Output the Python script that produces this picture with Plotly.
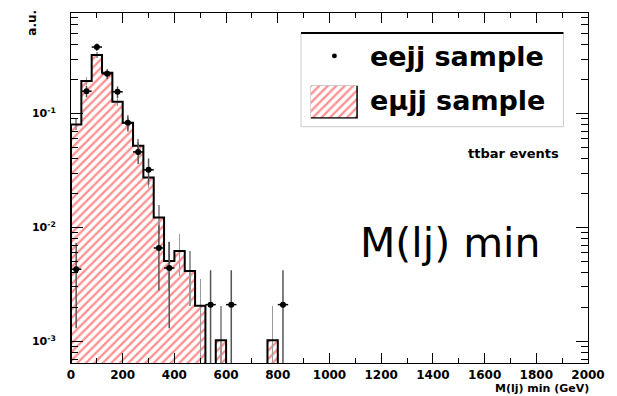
import plotly.graph_objects as go

# ---------------- data ----------------
bin_low = [0, 40, 80, 120, 160, 200, 240, 280, 320, 360, 400,
           440, 480, 520, 560, 600, 640, 680, 720, 760, 800]
bin_width = 40
emujj = [0.080, 0.193, 0.326, 0.228, 0.127, 0.083, 0.052, 0.0274, 0.0122, 0.00508, 0.00622,
         0.00415, 0.00205, 0, 0.00102, 0, 0, 0, 0, 0.00102, 0]
emujj_err = [0.009, 0.014, 0.018, 0.015, 0.0114, 0.0092, 0.0073, 0.0053, 0.0035, 0.0023, 0.0025,
             0.0021, 0.00145, 0, 0.00102, 0, 0, 0, 0, 0.00102, 0]

eejj_x = [20, 60, 100, 140, 180, 220, 260, 300, 340, 380, 540, 620, 820]
eejj_y = [0.0043, 0.157, 0.383, 0.223, 0.155, 0.083, 0.046, 0.032, 0.0066, 0.0044, 0.0021, 0.0021, 0.0021]
eejj_err = [0.003, 0.018, 0.029, 0.022, 0.018, 0.0134, 0.0099, 0.0083, 0.0038, 0.0031, 0.0021, 0.0021, 0.0021]

x_ticks = [0, 200, 400, 600, 800, 1000, 1200, 1400, 1600, 1800, 2000]
y_ticks = [0.001, 0.01, 0.1]
y_ticktext = ["10<sup>-3</sup>", "10<sup>-2</sup>", "10<sup>-1</sup>"]

# ---------------- layout geometry ----------------
W, H = 617, 396
L, R, T, B = 71, 20, 12, 33
PW, PH = W - L - R, H - T - B

def px(x):
    return (x - L) / PW

def py(y):
    return (H - B - y) / PH

FONT = "DejaVu Sans"

centers = [b + bin_width / 2 for b in bin_low]
bar_y = [v if v > 0 else None for v in emujj]

fig = go.Figure()

# hatched histogram
fig.add_trace(go.Bar(
    x=centers, y=bar_y, width=bin_width,
    marker=dict(color="white",
                pattern=dict(shape="/", fgcolor="#ff2020", bgcolor="white", size=6, solidity=0.38),
                line=dict(width=0)),
    error_y=dict(type="data", array=emujj_err, color="#9a9a9a", thickness=1.5, width=0),
    showlegend=False, hoverinfo="skip"))

# histogram outline (step)
tiny = 1e-6
sx, sy = [bin_low[0]], [tiny]
for lo, v in zip(bin_low, emujj):
    val = v if v > 0 else tiny
    sx += [lo, lo + bin_width]
    sy += [val, val]
sx.append(bin_low[-1] + bin_width)
sy.append(tiny)
fig.add_trace(go.Scatter(x=sx, y=sy, mode="lines",
                         line=dict(color="black", width=2),
                         showlegend=False, hoverinfo="skip"))

# eejj points
fig.add_trace(go.Scatter(
    x=eejj_x, y=eejj_y, mode="markers",
    marker=dict(color="black", size=6, symbol="circle"),
    error_y=dict(type="data", array=eejj_err, color="#555555", thickness=1.5, width=0),
    error_x=dict(type="constant", value=bin_width / 2, color="black", thickness=1.5, width=0),
    showlegend=False, hoverinfo="skip"))

# legend swatch (hatched box) on an overlay axis
fig.add_trace(go.Bar(
    x=[0], y=[1], width=1, xaxis="x2", yaxis="y2",
    marker=dict(color="white",
                pattern=dict(shape="/", fgcolor="#ff2020", bgcolor="white", size=6, solidity=0.38),
                line=dict(color="black", width=1.5)),
    showlegend=False, hoverinfo="skip"))

minor_y = [m * 10 ** e for e in (-4, -3, -2, -1) for m in range(2, 10)]

fig.update_layout(
    width=W, height=H,
    margin=dict(l=L, r=R, t=T, b=B),
    paper_bgcolor="white", plot_bgcolor="white",
    showlegend=False,
    bargap=0,
    xaxis=dict(range=[0, 2000], tickvals=x_ticks, ticks="inside", ticklen=10, tickwidth=1,
               tickcolor="black", showline=True, linecolor="black", linewidth=1, mirror="ticks",
               showgrid=False, zeroline=False, ticklabelstandoff=1,
               tickfont=dict(family=FONT, size=12, color="black", weight="bold"),
               minor=dict(dtick=100, ticks="inside", ticklen=5, tickcolor="black", showgrid=False)),
    yaxis=dict(type="log", range=[-3.19, -0.118], tickvals=y_ticks, ticktext=y_ticktext,
               ticks="inside", ticklen=12, tickwidth=1, tickcolor="black",
               showline=True, linecolor="black", linewidth=1, mirror="ticks",
               showgrid=False, zeroline=False, ticklabelstandoff=12,
               tickfont=dict(family=FONT, size=11, color="black", weight="bold"),
               minor=dict(tickvals=minor_y, ticks="inside", ticklen=7, tickcolor="black", showgrid=False)),
    xaxis2=dict(domain=[px(315), px(363)], range=[-0.5, 0.5], anchor="y2",
                visible=False, fixedrange=True),
    yaxis2=dict(domain=[py(118), py(85)], range=[0, 1], anchor="x2",
                visible=False, fixedrange=True),
)

shapes = [
    dict(type="rect", xref="paper", yref="paper", x0=px(305), x1=px(572), y0=py(126), y1=py(32),
         line=dict(color="#cccccc", width=1), fillcolor="rgba(0,0,0,0)", layer="above"),
    dict(type="line", xref="paper", yref="paper", x0=px(305), x1=px(572), y0=py(32), y1=py(32),
         line=dict(color="black", width=2), layer="above"),
    dict(type="circle", xref="paper", yref="paper", x0=px(336.5), x1=px(341.5), y0=py(57.5), y1=py(52.5),
         line=dict(color="black", width=0), fillcolor="black", layer="above"),
]
fig.update_layout(shapes=shapes)

ann = [
    dict(text="eejj sample", x=px(373), y=py(56), xanchor="left", yanchor="middle",
         font=dict(family=FONT, size=27, color="black", weight="bold")),
    dict(text="e\u03bcjj sample", x=px(373), y=py(100), xanchor="left", yanchor="middle",
         font=dict(family=FONT, size=27, color="black", weight="bold")),
    dict(text="ttbar events", x=px(521), y=py(153), xanchor="center", yanchor="middle",
         font=dict(family=FONT, size=13, color="black", weight="bold")),
    dict(text="M(lj) min", x=px(457), y=py(243), xanchor="center", yanchor="middle",
         font=dict(family=FONT, size=41, color="black")),
    dict(text="M(lj) min (GeV)", x=px(600), y=py(389), xanchor="right", yanchor="middle",
         font=dict(family=FONT, size=11, color="black", weight="bold")),
    dict(text="a.u.", x=px(31), y=py(22), xanchor="center", yanchor="middle", textangle=-90,
         font=dict(family=FONT, size=12, color="black", weight="bold")),
]
for a in ann:
    a.update(xref="paper", yref="paper", showarrow=False)
fig.update_layout(annotations=ann)

fig.write_html("out.html")
